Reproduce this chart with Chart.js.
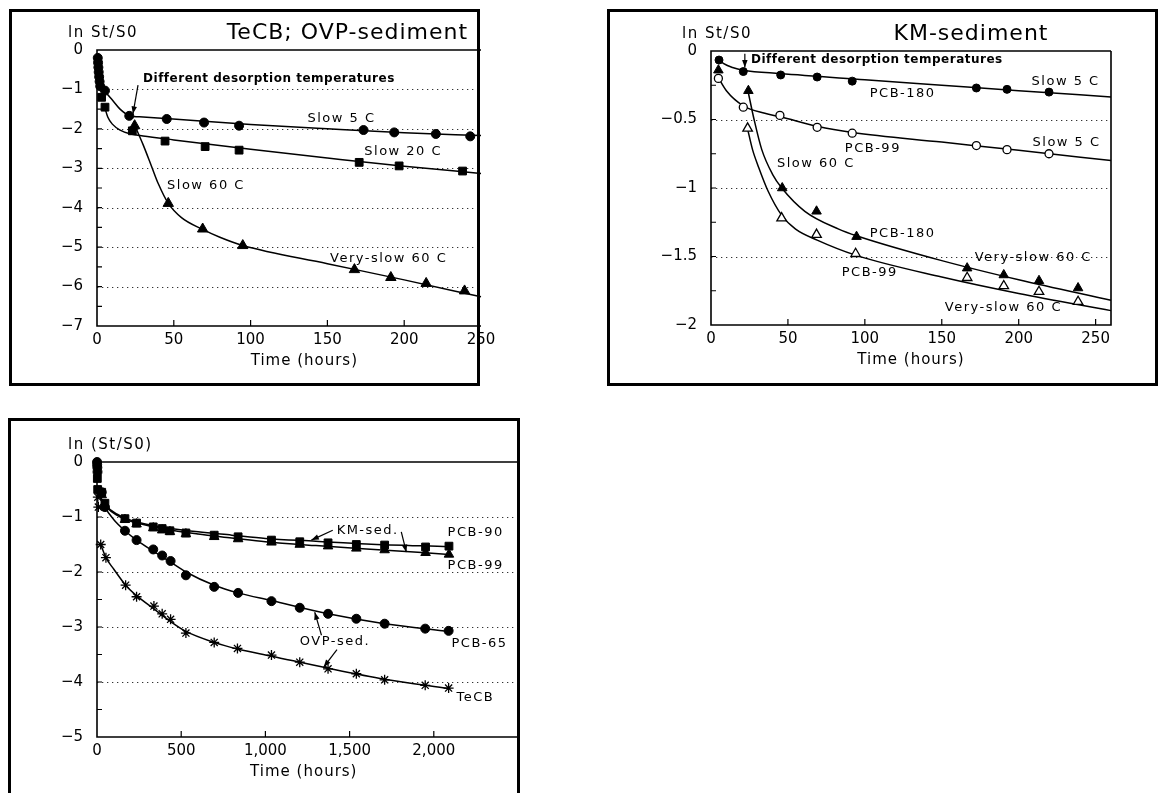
<!DOCTYPE html>
<html>
<head>
<meta charset="utf-8">
<script src="https://cdn.jsdelivr.net/npm/chart.js@4.4.1/dist/chart.umd.min.js"></script>
<style>
  html, body { margin: 0; padding: 0; background: #fff; }
  #page { position: relative; width: 1160px; height: 793px; overflow: hidden; }
  #page canvas { position: absolute; left: 0; top: 0; }
  .frame { position: absolute; border: 3px solid #000; box-sizing: border-box; }
</style>
</head>
<body>
<div id="page">
  <canvas id="tecb" width="1160" height="793"></canvas>
  <canvas id="km" width="1160" height="793"></canvas>
  <canvas id="long" width="1160" height="793"></canvas>
  <div class="frame" style="left:9px;top:9px;width:471px;height:377px"></div>
  <div class="frame" style="left:607px;top:9px;width:551px;height:377px"></div>
  <div class="frame" style="left:8px;top:418px;width:512px;height:400px"></div>
</div>
<script>
// ---- panel 1: TeCB in OVP sediment (hours vs ln St/S0) ----
const tecbSlow5Hours = [0.5, 0.7, 0.9, 1.1, 1.4, 1.7, 2.1, 5.2, 21, 45.4, 69.7, 92.5, 173.5, 193.5, 220.6, 243];
const tecbSlow5Ln = [-0.2, -0.32, -0.44, -0.56, -0.68, -0.8, -0.92, -1.03, -1.67, -1.75, -1.84, -1.92, -2.03, -2.09, -2.13, -2.19];
const tecbSlow20Hours = [3, 5.2, 23, 44.3, 70.4, 92.5, 170.7, 196.7, 238];
const tecbSlow20Ln = [-1.2, -1.45, -2.05, -2.31, -2.45, -2.54, -2.85, -2.94, -3.07];
const tecbSlow60Hours = [24.5, 46.4, 68.8, 94.9, 167.6, 191.3, 214.3, 239.3];
const tecbSlow60Ln = [-1.92, -3.89, -4.54, -4.96, -5.57, -5.77, -5.92, -6.11];
// fitted curves
const tecbFit5Hours = [2, 5, 10, 15, 21, 30, 45, 100, 150, 200, 250];
const tecbFit5Ln = [-0.95, -1.05, -1.27, -1.5, -1.66, -1.7, -1.74, -1.89, -2.0, -2.1, -2.17];
const tecbFit20Hours = [5, 7, 10, 15, 22, 30, 50, 100, 150, 200, 250];
const tecbFit20Ln = [-1.45, -1.7, -1.88, -2.03, -2.13, -2.18, -2.28, -2.52, -2.74, -2.95, -3.13];
const tecbFit60Hours = [25, 30, 35.6, 40, 46.4, 55, 68.8, 80, 95, 150, 200, 250];
const tecbFit60Ln = [-1.95, -2.4, -2.96, -3.4, -3.89, -4.25, -4.55, -4.75, -4.96, -5.42, -5.83, -6.26];
const tecbXTicks = [0, 50, 100, 150, 200, 250];
const tecbXLabels = ['0', '50', '100', '150', '200', '250'];
const tecbYTicks = [-7, -6, -5, -4, -3, -2, -1, 0];
const tecbYLabels = ['−7', '−6', '−5', '−4', '−3', '−2', '−1', '0'];

// ---- panel 2: KM sediment, PCB-180 and PCB-99 ----
const km180SlowHours = [5.2, 21, 45.3, 69, 91.8, 172.5, 192.4, 219.7];
const km180SlowLn = [-0.066, -0.15, -0.175, -0.19, -0.22, -0.27, -0.28, -0.30];
const km99SlowHours = [4.8, 21, 44.8, 69, 91.8, 172.5, 192.4, 219.7];
const km99SlowLn = [-0.2, -0.41, -0.47, -0.557, -0.6, -0.69, -0.72, -0.75];
const km180HotHours = [4.8, 24.3, 46.3, 68.6, 94.6, 166.5, 190.3, 213.2, 238.6];
const km180HotLn = [-0.14, -0.29, -1.0, -1.17, -1.355, -1.585, -1.635, -1.677, -1.73];
const km99HotHours = [23.8, 45.9, 68.6, 94, 166.5, 190.3, 213.2, 238.6];
const km99HotLn = [-0.565, -1.22, -1.34, -1.48, -1.655, -1.715, -1.757, -1.83];
const km180SlowFitHours = [4, 8, 14, 21, 45, 100, 150, 200, 260];
const km180SlowFitLn = [-0.05, -0.09, -0.12, -0.14, -0.165, -0.21, -0.25, -0.29, -0.335];
const km99SlowFitHours = [4, 10, 21, 35, 45, 69, 92, 150, 200, 260];
const km99SlowFitLn = [-0.18, -0.29, -0.4, -0.455, -0.48, -0.55, -0.595, -0.665, -0.725, -0.8];
const km180HotFitHours = [24, 28, 33, 40, 46, 61, 83, 95, 150, 200, 260];
const km180HotFitLn = [-0.29, -0.5, -0.72, -0.9, -1.0, -1.17, -1.3, -1.35, -1.53, -1.67, -1.82];
const km99HotFitHours = [23.8, 27, 31, 37, 46, 55, 69, 94, 150, 200, 260];
const km99HotFitLn = [-0.57, -0.72, -0.85, -1.02, -1.2, -1.3, -1.38, -1.49, -1.65, -1.77, -1.895];
const kmXTicks = [0, 50, 100, 150, 200, 250];
const kmXLabels = ['0', '50', '100', '150', '200', '250'];
const kmYTicks = [-2, -1.5, -1, -0.5, 0];
const kmYLabels = ['−2', '−1.5', '−1', '−0.5', '0'];

// ---- panel 3: long-term desorption, both sediments ----
const pcb90Hours = [2, 4, 28, 47, 166, 235, 334, 387, 433, 528, 696, 838, 1036, 1204, 1372, 1540, 1708, 1951, 2090];
const pcb90Ln = [-0.3, -0.5, -0.55, -0.75, -1.03, -1.11, -1.18, -1.21, -1.25, -1.29, -1.33, -1.36, -1.42, -1.45, -1.47, -1.5, -1.51, -1.545, -1.53];
const pcb99Hours = [28, 47, 166, 235, 334, 387, 433, 528, 696, 838, 1036, 1204, 1372, 1540, 1708, 1951, 2090];
const pcb99Ln = [-0.6, -0.8, -1.05, -1.13, -1.2, -1.24, -1.27, -1.31, -1.36, -1.4, -1.46, -1.5, -1.53, -1.57, -1.6, -1.65, -1.68];
const pcb65Hours = [0.5, 1, 2, 3, 28, 47, 166, 235, 334, 387, 437, 528, 696, 838, 1036, 1204, 1372, 1540, 1708, 1949, 2088];
const pcb65Ln = [0, -0.05, -0.1, -0.18, -0.55, -0.82, -1.25, -1.42, -1.59, -1.7, -1.8, -2.06, -2.27, -2.38, -2.53, -2.65, -2.76, -2.85, -2.94, -3.03, -3.07];
const tecbLongHours = [5, 8, 22, 53, 170, 235, 338, 387, 437, 528, 696, 834, 1036, 1204, 1372, 1540, 1708, 1949, 2088];
const tecbLongLn = [-0.64, -0.82, -1.5, -1.74, -2.24, -2.45, -2.62, -2.76, -2.86, -3.11, -3.28, -3.39, -3.51, -3.64, -3.76, -3.85, -3.96, -4.06, -4.11];
const pcb90FitHours = [20, 60, 120, 166, 250, 400, 600, 800, 1000, 1300, 1600, 2090];
const pcb90FitLn = [-0.65, -0.82, -0.95, -1.02, -1.1, -1.19, -1.27, -1.33, -1.39, -1.44, -1.49, -1.54];
const pcb99FitHours = [20, 60, 120, 166, 250, 400, 600, 800, 1000, 1300, 1600, 2090];
const pcb99FitLn = [-0.65, -0.83, -0.97, -1.04, -1.12, -1.22, -1.31, -1.38, -1.45, -1.52, -1.58, -1.68];
const pcb65FitHours = [20, 47, 100, 166, 235, 334, 437, 528, 696, 838, 1036, 1372, 1708, 2088];
const pcb65FitLn = [-0.62, -0.82, -1.05, -1.25, -1.42, -1.62, -1.82, -2.0, -2.24, -2.38, -2.52, -2.76, -2.94, -3.08];
const tecbLongFitHours = [22, 53, 100, 170, 235, 338, 437, 528, 696, 834, 1036, 1372, 1708, 2088];
const tecbLongFitLn = [-1.5, -1.74, -1.95, -2.24, -2.43, -2.67, -2.9, -3.08, -3.28, -3.4, -3.53, -3.75, -3.95, -4.12];
const longXTicks = [0, 500, 1000, 1500, 2000];
const longXLabels = ['0', '500', '1,000', '1,500', '2,000'];
const longYTicks = [-5, -4, -3, -2, -1, 0];
const longYLabels = ['−5', '−4', '−3', '−2', '−1', '0'];

const FONT = '"DejaVu Sans", sans-serif';
const tickFont = { family: FONT, size: 15 };

const pts = (xs, ys) => xs.map((v, i) => ({ x: v, y: ys[i] }));

function marks(xs, ys, style, r, open) {
  return {
    data: pts(xs, ys), pointStyle: style, pointRadius: r, pointHoverRadius: r,
    pointBackgroundColor: open ? '#fff' : '#000', pointBorderColor: '#000',
    pointBorderWidth: open || style === 'star' ? 1.3 : 1,
    showLine: false, order: 1, clip: false
  };
}

function curve(xs, ys) {
  return {
    data: pts(xs, ys), showLine: true, borderColor: '#000', borderWidth: 1.5,
    pointRadius: 0, cubicInterpolationMode: 'monotone', order: 2, clip: 2
  };
}

function axes(o) {
  return {
    x: {
      type: 'linear', min: o.xMin, max: o.xMax,
      afterBuildTicks: s => { s.ticks = o.xTicks.map(v => ({ value: v })); },
      ticks: { callback: (v, i) => o.xLabels[i], color: '#000', font: tickFont, padding: -3, maxRotation: 0, autoSkip: false },
      grid: { display: false }, border: { display: false },
      afterFit: s => { s.height = 50; s.paddingLeft = 0; s.paddingRight = 0; }
    },
    y: {
      type: 'linear', min: o.yMin, max: o.yMax,
      afterBuildTicks: s => { s.ticks = o.yTicks.map(v => ({ value: v })); },
      ticks: { callback: (v, i) => o.yLabels[i], color: '#000', font: tickFont, padding: 6, autoSkip: false },
      grid: { display: false }, border: { display: false },
      afterFit: s => { s.width = o.yWidth; s.paddingTop = 0; s.paddingBottom = 0; }
    }
  };
}

// frame lines, dotted grid, inward ticks, titles and notes
function decor(cfg) {
  return {
    id: 'decor',
    beforeDatasetsDraw(chart) {
      const { ctx, chartArea: a, scales: { x, y } } = chart;
      ctx.save();
      ctx.strokeStyle = '#333';
      ctx.lineWidth = 1;
      ctx.setLineDash([1.3, 3.7]);
      cfg.grid.forEach(v => {
        const py = Math.round(y.getPixelForValue(v)) + 0.5;
        ctx.beginPath(); ctx.moveTo(a.left, py); ctx.lineTo(a.right, py); ctx.stroke();
      });
      ctx.setLineDash([]);
      ctx.strokeStyle = '#000';
      ctx.lineWidth = 1.6;
      ctx.beginPath();
      ctx.moveTo(a.right, a.top); ctx.lineTo(a.left, a.top);
      ctx.lineTo(a.left, a.bottom); ctx.lineTo(a.right, a.bottom);
      if (cfg.rightEdge) ctx.lineTo(a.right, a.top);
      ctx.stroke();
      ctx.lineWidth = 1.2;
      ctx.beginPath();
      for (let v = y.min + cfg.yStep; v < y.max - 1e-9; v += cfg.yStep) {
        const py = y.getPixelForValue(v);
        ctx.moveTo(a.left, py); ctx.lineTo(a.left + 5, py);
      }
      for (let v = x.min + cfg.xStep; v < x.max - 1e-9; v += cfg.xStep) {
        const px = x.getPixelForValue(v);
        ctx.moveTo(px, a.bottom); ctx.lineTo(px, a.bottom - 6);
      }
      ctx.stroke();
      ctx.restore();
    },
    afterDraw(chart) {
      const { ctx, chartArea: a, scales: { x, y } } = chart;
      const put = (t, px, py, font, align, spacing) => {
        ctx.font = font; ctx.letterSpacing = spacing;
        ctx.textAlign = align; ctx.textBaseline = 'middle';
        ctx.fillText(t, px, py);
      };
      ctx.save();
      ctx.fillStyle = '#000';
      ctx.strokeStyle = '#000';
      put(cfg.yTitle, a.left - 29, a.top - 17, '15px ' + FONT, 'left', '1.5px');
      put('Time (hours)', x.getPixelForValue(cfg.xTitleAt), a.bottom + 35, '15px ' + FONT, 'center', '1px');
      if (cfg.title) put(cfg.title, x.getPixelForValue(cfg.titleAt), a.top - 17, '22px ' + FONT, 'center', '1px');
      cfg.notes.forEach(n => {
        put(n.t, x.getPixelForValue(n.x), y.getPixelForValue(n.y),
          (n.bold ? 'bold 12px ' : '13px ') + FONT, 'left', n.bold ? '0.5px' : '1.5px');
      });
      ctx.lineWidth = 1.2;
      cfg.arrows.forEach(([x1, y1, x2, y2]) => {
        const ax = x.getPixelForValue(x1), ay = y.getPixelForValue(y1);
        const bx = x.getPixelForValue(x2), by = y.getPixelForValue(y2);
        ctx.beginPath(); ctx.moveTo(ax, ay); ctx.lineTo(bx, by); ctx.stroke();
        const ang = Math.atan2(by - ay, bx - ax);
        ctx.beginPath();
        ctx.moveTo(bx, by);
        ctx.lineTo(bx - 8 * Math.cos(ang - 0.35), by - 8 * Math.sin(ang - 0.35));
        ctx.lineTo(bx - 8 * Math.cos(ang + 0.35), by - 8 * Math.sin(ang + 0.35));
        ctx.closePath(); ctx.fill();
      });
      ctx.restore();
    }
  };
}

function baseOptions(padding, scales) {
  return {
    responsive: false, maintainAspectRatio: false, animation: false,
    layout: { padding },
    plugins: { legend: { display: false }, tooltip: { enabled: false } },
    scales
  };
}

// panel 1
new Chart(document.getElementById('tecb'), {
  type: 'scatter',
  data: {
    datasets: [
      curve(tecbFit5Hours, tecbFit5Ln),
      curve(tecbFit20Hours, tecbFit20Ln),
      curve(tecbFit60Hours, tecbFit60Ln),
      marks(tecbSlow5Hours, tecbSlow5Ln, 'circle', 4.5),
      marks(tecbSlow20Hours, tecbSlow20Ln, 'rect', 5.5),
      marks(tecbSlow60Hours, tecbSlow60Ln, 'triangle', 6)
    ]
  },
  options: baseOptions({ left: 57, top: 50, right: 679, bottom: 417 },
    axes({ xMin: 0, xMax: 250, xTicks: tecbXTicks, xLabels: tecbXLabels,
           yMin: -7, yMax: 0, yTicks: tecbYTicks, yLabels: tecbYLabels, yWidth: 40 })),
  plugins: [decor({
    grid: [-1, -2, -3, -4, -5, -6], yStep: 0.5, xStep: 50,
    yTitle: 'ln St/S0', xTitleAt: 135, title: 'TeCB; OVP-sediment', titleAt: 163,
    notes: [
      { t: 'Different desorption temperatures', x: 30, y: -0.74, bold: true },
      { t: 'Slow 5 C', x: 137, y: -1.73 },
      { t: 'Slow 20 C', x: 174, y: -2.59 },
      { t: 'Slow 60 C', x: 45.6, y: -3.43 },
      { t: 'Very-slow 60 C', x: 151.7, y: -5.3 }
    ],
    arrows: [[26.7, -0.89, 23.4, -1.62]]
  })]
});

// panel 2
new Chart(document.getElementById('km'), {
  type: 'scatter',
  data: {
    datasets: [
      curve(km180SlowFitHours, km180SlowFitLn),
      curve(km99SlowFitHours, km99SlowFitLn),
      curve(km180HotFitHours, km180HotFitLn),
      curve(km99HotFitHours, km99HotFitLn),
      marks(km180SlowHours, km180SlowLn, 'circle', 4),
      marks(km99SlowHours, km99SlowLn, 'circle', 4, true),
      marks(km180HotHours, km180HotLn, 'triangle', 5.5),
      marks(km99HotHours, km99HotLn, 'triangle', 5.5, true)
    ]
  },
  options: baseOptions({ left: 651, top: 51, right: 49, bottom: 418 },
    axes({ xMin: 0, xMax: 260, xTicks: kmXTicks, xLabels: kmXLabels,
           yMin: -2, yMax: 0, yTicks: kmYTicks, yLabels: kmYLabels, yWidth: 60 })),
  plugins: [decor({
    grid: [-0.5, -1, -1.5], yStep: 0.25, xStep: 50, rightEdge: true,
    yTitle: 'ln St/S0', xTitleAt: 130, title: 'KM-sediment', titleAt: 169,
    notes: [
      { t: 'Different desorption temperatures', x: 26, y: -0.066, bold: true },
      { t: 'Slow 5 C', x: 208.4, y: -0.22 },
      { t: 'PCB-180', x: 103.2, y: -0.314 },
      { t: 'Slow 5 C', x: 209, y: -0.67 },
      { t: 'PCB-99', x: 87, y: -0.715 },
      { t: 'Slow 60 C', x: 42.9, y: -0.82 },
      { t: 'PCB-180', x: 103.2, y: -1.33 },
      { t: 'PCB-99', x: 85, y: -1.62 },
      { t: 'Very-slow 60 C', x: 171.4, y: -1.51 },
      { t: 'Very-slow 60 C', x: 152, y: -1.876 }
    ],
    arrows: [[22, -0.02, 22, -0.12]]
  })]
});

// panel 3
new Chart(document.getElementById('long'), {
  type: 'scatter',
  data: {
    datasets: [
      curve(pcb90FitHours, pcb90FitLn),
      curve(pcb99FitHours, pcb99FitLn),
      curve(pcb65FitHours, pcb65FitLn),
      curve(tecbLongFitHours, tecbLongFitLn),
      marks(pcb90Hours, pcb90Ln, 'rect', 5.5),
      marks(pcb99Hours, pcb99Ln, 'triangle', 5.5),
      marks(pcb65Hours, pcb65Ln, 'circle', 4.5),
      marks(tecbLongHours, tecbLongLn, 'star', 5)
    ]
  },
  options: baseOptions({ left: 57, top: 462, right: 642, bottom: 6 },
    axes({ xMin: 0, xMax: 2500, xTicks: longXTicks, xLabels: longXLabels,
           yMin: -5, yMax: 0, yTicks: longYTicks, yLabels: longYLabels, yWidth: 40 })),
  plugins: [decor({
    grid: [-1, -2, -3, -4], yStep: 0.5, xStep: 500,
    yTitle: 'ln (St/S0)', xTitleAt: 1228,
    notes: [
      { t: 'KM-sed.', x: 1423, y: -1.255 },
      { t: 'PCB-90', x: 2082, y: -1.29 },
      { t: 'PCB-99', x: 2082, y: -1.89 },
      { t: 'OVP-sed.', x: 1204, y: -3.27 },
      { t: 'PCB-65', x: 2105, y: -3.31 },
      { t: 'TeCB', x: 2135, y: -4.28 }
    ],
    arrows: [
      [1400, -1.24, 1273, -1.42],
      [1807, -1.27, 1837, -1.64],
      [1333, -3.15, 1293, -2.73],
      [1425, -3.41, 1346, -3.73]
    ]
  })]
});
</script>
</body>
</html>
